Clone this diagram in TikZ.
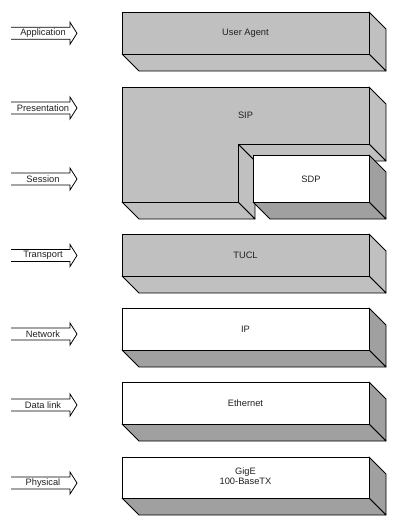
\documentclass[tikz,border=0pt]{standalone}
\usepackage{fontspec}
\setmainfont{Liberation Sans}
\definecolor{facegray}{HTML}{C0C0C0}
\definecolor{darkside}{HTML}{A0A0A0}
\definecolor{txt}{HTML}{202020}
\tikzset{
  face/.style={draw=black,line width=0.8pt,line join=round},
  arrowline/.style={draw=black,line width=0.8pt,line join=miter},
  lbl/.style={font=\fontsize{9.3}{11}\selectfont,text=txt,inner sep=0pt}
}
% #1 x1, #2 y1, #3 x2, #4 y2, #5 front colour, #6 side colour
\newcommand{\layerbox}[6]{%
  \path[face,fill=#6] (#3,#2) -- ({#3+17},{#2+17}) -- ({#3+17},{#4+17}) -- (#3,#4) -- cycle;
  \path[face,fill=#6] (#1,#4) -- (#3,#4) -- ({#3+17},{#4+17}) -- ({#1+17},{#4+17}) -- cycle;
  \path[face,fill=#5] (#1,#2) rectangle (#3,#4);
}
% #1 y centre, #2 label, #3 name
\newcommand{\layerarrow}[3]{%
  \draw[arrowline] (11,{#1-6}) -- (70,{#1-6}) -- (70,{#1-11}) -- (77,#1) -- (70,{#1+11}) -- (70,{#1+6}) -- (11,{#1+6});
  \node[lbl] (#3) at (43,#1) {#2};
}
\begin{document}
\begin{tikzpicture}[x=1pt,y=-1pt]
\useasboundingbox (0,0) rectangle (400,522);
% User Agent
\layerbox{122}{12}{369}{54}{facegray}{facegray}
\node[lbl] (ua) at (245.5,33) {User Agent};
% SIP (L-shaped)
\path[face,fill=facegray] (369,87) -- (386,104) -- (386,161) -- (369,144) -- cycle;
\path[face,fill=facegray] (238,144) -- (369,144) -- (386,161) -- (255,161) -- cycle;
\path[face,fill=facegray] (238,144) -- (255,161) -- (255,219) -- (238,202) -- cycle;
\path[face,fill=facegray] (122,202) -- (238,202) -- (255,219) -- (139,219) -- cycle;
\path[face,fill=facegray] (122,87) -- (369,87) -- (369,144) -- (238,144) -- (238,202) -- (122,202) -- cycle;
\node[lbl] (sip) at (245.5,115) {SIP};
% SDP
\layerbox{253}{155}{369}{202}{white}{darkside}
\node[lbl] (sdp) at (311,179) {SDP};
% TUCL
\layerbox{122}{234}{369}{276}{facegray}{facegray}
\node[lbl] (tucl) at (245.5,255) {TUCL};
% IP
\layerbox{122}{308}{369}{350}{white}{darkside}
\node[lbl] (ip) at (245.5,329) {IP};
% Ethernet
\layerbox{122}{382}{369}{424}{white}{darkside}
\node[lbl] (eth) at (245.5,403) {Ethernet};
% GigE
\layerbox{122}{457}{369}{498}{white}{darkside}
\node[lbl,align=center,font=\fontsize{9.3}{10.5}\selectfont] (phy) at (245.5,476) {GigE\\100-BaseTX};
% Left arrows
\layerarrow{33.3}{Application}{aapp}
\layerarrow{108}{Presentation}{apres}
\layerarrow{179}{Session}{asess}
\layerarrow{255.5}{Transport}{atrans}
\layerarrow{334}{Network}{anet}
\layerarrow{405}{Data link}{adata}
\layerarrow{483}{Physical}{aphys}
\end{tikzpicture}
\end{document}
